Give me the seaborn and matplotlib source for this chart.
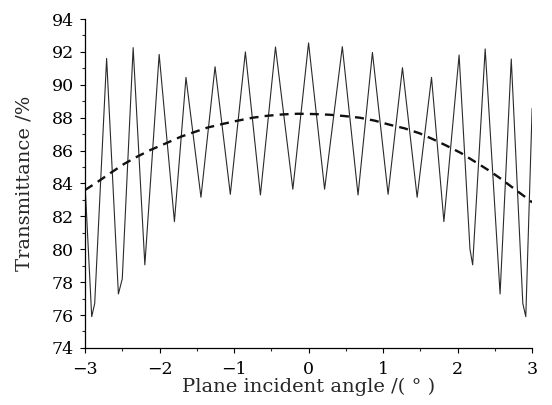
import numpy as np
import pandas as pd
import matplotlib
matplotlib.use("Agg")
import matplotlib.pyplot as plt
import seaborn as sns
from matplotlib.ticker import MultipleLocator

# Solid curve (oscillating transmittance)
angle_solid = [-3.0, -2.91, -2.87, -2.71, -2.552, -2.50, -2.354, -2.197, -2.005,
               -1.80, -1.645, -1.444, -1.255, -1.05, -0.848, -0.646, -0.444,
               -0.211, 0.0, 0.215, 0.453, 0.664, 0.857, 1.067, 1.26, 1.457,
               1.65, 1.816, 2.02, 2.166, 2.202, 2.37, 2.57, 2.72, 2.875, 2.915, 3.0]
trans_solid = [84.0, 75.9, 76.7, 91.6, 77.28, 78.2, 92.26, 79.05, 91.85,
               81.68, 90.45, 83.16, 91.1, 83.34, 92.0, 83.3, 92.3,
               83.65, 92.55, 83.65, 92.32, 83.3, 91.97, 83.34, 91.04, 83.16,
               90.45, 81.68, 91.81, 80.0, 79.05, 92.18, 77.28, 91.57, 76.7, 75.9, 88.57]

# Dashed curve (average transmittance)
angle_dash = [-3.0, -2.83, -2.65, -2.475, -2.30, -2.12, -1.915, -1.71, -1.556,
              -1.355, -1.153, -0.95, -0.749, -0.547, -0.345, -0.144, 0.08,
              0.28, 0.48, 0.686, 0.888, 1.09, 1.29, 1.49, 1.67, 1.85, 2.05,
              2.23, 2.41, 2.57, 2.75, 2.93, 3.0]
trans_dash = [83.6, 84.1, 84.66, 85.19, 85.63, 86.04, 86.44, 86.85, 87.09,
              87.4, 87.62, 87.82, 88.0, 88.12, 88.2, 88.24, 88.22,
              88.18, 88.1, 88.0, 87.82, 87.57, 87.35, 87.05, 86.69, 86.3, 85.84,
              85.33, 84.82, 84.32, 83.71, 83.1, 82.85]

x_ticks = [-3, -2, -1, 0, 1, 2, 3]
y_ticks = [74, 76, 78, 80, 82, 84, 86, 88, 90, 92, 94]

sns.set_style("ticks")
plt.rcParams['font.family'] = ['DejaVu Serif']

fig = plt.figure(figsize=(5.52, 4.05), dpi=100)
ax = fig.add_axes([0.154, 0.141, 0.810, 0.812])

df_s = pd.DataFrame({"angle": angle_solid, "T": trans_solid})
df_d = pd.DataFrame({"angle": angle_dash, "T": trans_dash})

sns.lineplot(data=df_s, x="angle", y="T", ax=ax, color="#2a2a2a", linewidth=0.8,
             sort=False, estimator=None)
sns.lineplot(data=df_d, x="angle", y="T", ax=ax, color="#111111", linewidth=1.7,
             sort=False, estimator=None, dashes=False)
ax.lines[-1].set_dashes((3.8, 2.6))

ax.set_xlim(-3, 3)
ax.set_ylim(74, 94)
ax.set_xticks(x_ticks)
ax.set_yticks(y_ticks)
ax.xaxis.set_minor_locator(MultipleLocator(0.5))
ax.yaxis.set_minor_locator(MultipleLocator(1))
ax.tick_params(which='major', direction='out', length=3.6, width=0.8, labelsize=12.5, colors='black')
ax.tick_params(which='minor', direction='out', length=2, width=0.8)
ax.tick_params(axis='x', which='major', pad=6)
ax.tick_params(axis='y', which='major', pad=4.5)
sns.despine(ax=ax)
for s in ['left', 'bottom']:
    ax.spines[s].set_linewidth(0.9)
    ax.spines[s].set_color('black')

ax.set_xlabel("Plane incident angle /( ° )", fontsize=14, labelpad=0)
ax.set_ylabel("Transmittance /%", fontsize=14, labelpad=13)

fig.savefig("out.png", dpi=100)
